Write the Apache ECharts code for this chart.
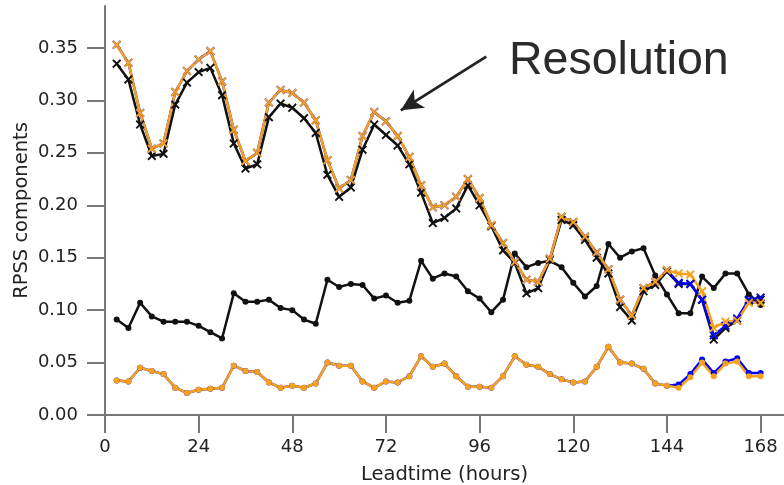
<!DOCTYPE html>
<html>
<head>
<meta charset="utf-8">
<script src="https://cdn.jsdelivr.net/npm/echarts@6/dist/echarts.min.js"></script>
<style>
  html, body { margin: 0; padding: 0; background: #fff; }
  #main { width: 784px; height: 485px; }
</style>
</head>
<body>
<div id="main"></div>
<script>
// lead times (hours)
const hours = [3, 6, 9, 12, 15, 18, 21, 24, 27, 30, 33, 36, 39, 42, 45, 48, 51, 54, 57, 60,
  63, 66, 69, 72, 75, 78, 81, 84, 87, 90, 93, 96, 99, 102, 105, 108, 111, 114, 117, 120,
  123, 126, 129, 132, 135, 138, 141, 144, 147, 150, 153, 156, 159, 162, 165, 168];

// resolution, black crosses
const resBlack = [0.335, 0.320, 0.277, 0.247, 0.249, 0.296, 0.317, 0.327, 0.331, 0.305,
  0.259, 0.235, 0.239, 0.284, 0.297, 0.293, 0.283, 0.269, 0.229, 0.208,
  0.217, 0.253, 0.277, 0.267, 0.257, 0.239, 0.212, 0.183, 0.188, 0.197,
  0.219, 0.200, 0.180, 0.157, 0.145, 0.116, 0.121, 0.148, 0.186, 0.181,
  0.167, 0.150, 0.135, 0.103, 0.090, 0.118, 0.124, 0.137, 0.125, 0.125,
  0.110, 0.072, 0.083, 0.090, 0.109, 0.110];

// resolution, orange crosses
const resOrange = [0.353, 0.336, 0.288, 0.254, 0.259, 0.308, 0.328, 0.339, 0.347, 0.318,
  0.272, 0.242, 0.250, 0.298, 0.310, 0.307, 0.298, 0.281, 0.243, 0.216,
  0.224, 0.266, 0.289, 0.280, 0.266, 0.246, 0.219, 0.198, 0.200, 0.208,
  0.225, 0.207, 0.181, 0.164, 0.146, 0.129, 0.127, 0.149, 0.189, 0.184,
  0.170, 0.155, 0.139, 0.110, 0.095, 0.121, 0.127, 0.138, 0.135, 0.134,
  0.118, 0.083, 0.089, 0.090, 0.107, 0.107];

// resolution, blue crosses
const resBlue = [0.353, 0.336, 0.288, 0.254, 0.259, 0.308, 0.328, 0.339, 0.347, 0.318,
  0.272, 0.242, 0.250, 0.298, 0.310, 0.307, 0.298, 0.281, 0.243, 0.216,
  0.224, 0.266, 0.289, 0.280, 0.266, 0.246, 0.219, 0.198, 0.200, 0.208,
  0.225, 0.207, 0.181, 0.164, 0.146, 0.129, 0.127, 0.149, 0.189, 0.184,
  0.170, 0.155, 0.139, 0.110, 0.095, 0.121, 0.127, 0.138, 0.126, 0.125,
  0.110, 0.076, 0.085, 0.092, 0.110, 0.112];

// black dots
const relBlack = [0.091, 0.083, 0.107, 0.094, 0.089, 0.089, 0.089, 0.085, 0.079, 0.073,
  0.116, 0.108, 0.108, 0.110, 0.102, 0.100, 0.091, 0.087, 0.129, 0.122,
  0.125, 0.124, 0.111, 0.114, 0.107, 0.109, 0.147, 0.130, 0.135, 0.132,
  0.118, 0.111, 0.098, 0.110, 0.154, 0.141, 0.145, 0.147, 0.141, 0.126,
  0.113, 0.123, 0.163, 0.150, 0.156, 0.159, 0.133, 0.115, 0.097, 0.097,
  0.132, 0.121, 0.135, 0.135, 0.115, 0.105];

// orange dots (low)
const relOrange = [0.033, 0.032, 0.045, 0.042, 0.039, 0.026, 0.021, 0.024, 0.025, 0.026,
  0.047, 0.042, 0.041, 0.031, 0.026, 0.028, 0.026, 0.030, 0.050, 0.047,
  0.047, 0.032, 0.026, 0.032, 0.031, 0.037, 0.056, 0.046, 0.049, 0.037,
  0.027, 0.027, 0.026, 0.037, 0.056, 0.048, 0.046, 0.039, 0.034, 0.031,
  0.032, 0.046, 0.065, 0.050, 0.049, 0.044, 0.030, 0.028, 0.026, 0.036,
  0.050, 0.037, 0.049, 0.051, 0.037, 0.037];

// blue dots (low)
const relBlue = [0.033, 0.032, 0.045, 0.042, 0.039, 0.026, 0.021, 0.024, 0.025, 0.026,
  0.047, 0.042, 0.041, 0.031, 0.026, 0.028, 0.026, 0.030, 0.050, 0.047,
  0.047, 0.032, 0.026, 0.032, 0.031, 0.037, 0.056, 0.046, 0.049, 0.037,
  0.027, 0.027, 0.026, 0.037, 0.056, 0.048, 0.046, 0.039, 0.034, 0.031,
  0.032, 0.046, 0.065, 0.050, 0.049, 0.044, 0.030, 0.028, 0.029, 0.039,
  0.053, 0.040, 0.051, 0.054, 0.040, 0.040];

const xTicks = [0, 24, 48, 72, 96, 120, 144, 168];
const yTicks = [0, 0.05, 0.10, 0.15, 0.20, 0.25, 0.30, 0.35];

// annotation arrow (data coords): start, tip
const arrowStart = [97.7, 0.3417];
const arrowEnd = [75.8, 0.2905];

const ORANGE = '#f7a21b';
const BLUE = '#0000ff';
const BLACK = '#111111';
const cross = 'path://M0,1.5L1.5,0L5,3.5L8.5,0L10,1.5L6.5,5L10,8.5L8.5,10L5,6.5L1.5,10L0,8.5L3.5,5Z';

function pairs(vals) {
  return hours.map((h, i) => [h, vals[i]]);
}

function lineSeries(name, vals, color, symbol, size, extra) {
  return Object.assign({
    name: name,
    type: 'line',
    data: pairs(vals),
    symbol: symbol,
    symbolSize: size,
    showAllSymbol: true,
    lineStyle: { color: color, width: 2.5 },
    itemStyle: { color: color },
    emphasis: { disabled: true },
    z: 2
  }, extra || {});
}

const chart = echarts.init(document.getElementById('main'));

chart.setOption({
  animation: false,
  backgroundColor: '#ffffff',
  grid: { left: 105, right: 0, top: 6, bottom: 70, containLabel: false, outerBoundsMode: 'none' },
  xAxis: {
    type: 'value',
    min: 0,
    max: 174,
    name: 'Leadtime (hours)',
    nameLocation: 'middle',
    nameGap: 50,
    nameMoveOverlap: false,
    nameTextStyle: { fontFamily: 'DejaVu Sans', fontSize: 19.5, color: '#222' },
    axisLine: { show: true, onZero: false, lineStyle: { color: '#777', width: 2 } },
    axisTick: { show: true, length: 18, customValues: xTicks, lineStyle: { color: '#777', width: 2 } },
    axisLabel: { customValues: xTicks, margin: 23, fontFamily: 'DejaVu Sans', fontSize: 18, color: '#222' },
    splitLine: { show: false }
  },
  yAxis: {
    type: 'value',
    min: 0,
    max: 0.39,
    name: 'RPSS components',
    nameLocation: 'middle',
    nameGap: 73,
    nameRotate: 90,
    nameMoveOverlap: false,
    nameTextStyle: { fontFamily: 'DejaVu Sans', fontSize: 19.5, color: '#222' },
    axisLine: { show: true, lineStyle: { color: '#777', width: 2 } },
    axisTick: { show: true, length: 18, customValues: yTicks, lineStyle: { color: '#777', width: 2 } },
    axisLabel: {
      customValues: yTicks,
      margin: 27,
      fontFamily: 'DejaVu Sans',
      fontSize: 18,
      color: '#222',
      formatter: v => v.toFixed(2)
    },
    splitLine: { show: false }
  },
  series: [
    lineSeries('black dots', relBlack, BLACK, 'circle', 6),
    lineSeries('blue dots', relBlue, BLUE, 'circle', 6),
    lineSeries('orange dots', relOrange, ORANGE, 'circle', 6),
    lineSeries('black crosses', resBlack, BLACK, cross, 9),
    lineSeries('blue crosses', resBlue, BLUE, cross, 9),
    lineSeries('orange crosses', resOrange, ORANGE, cross, 9, {
      markLine: {
        silent: true,
        symbol: ['none', 'arrow'],
        symbolSize: [16, 22],
        label: { show: false },
        lineStyle: { color: '#222', width: 2.8, type: 'solid' },
        data: [[{ coord: arrowStart }, { coord: arrowEnd }]]
      }
    })
  ],
  graphic: [{
    type: 'text',
    left: 509,
    top: 38,
    style: {
      text: 'Resolution',
      fontFamily: 'Liberation Sans',
      fontSize: 46.5,
      fill: '#2b2b2b'
    }
  }]
});
</script>
</body>
</html>
